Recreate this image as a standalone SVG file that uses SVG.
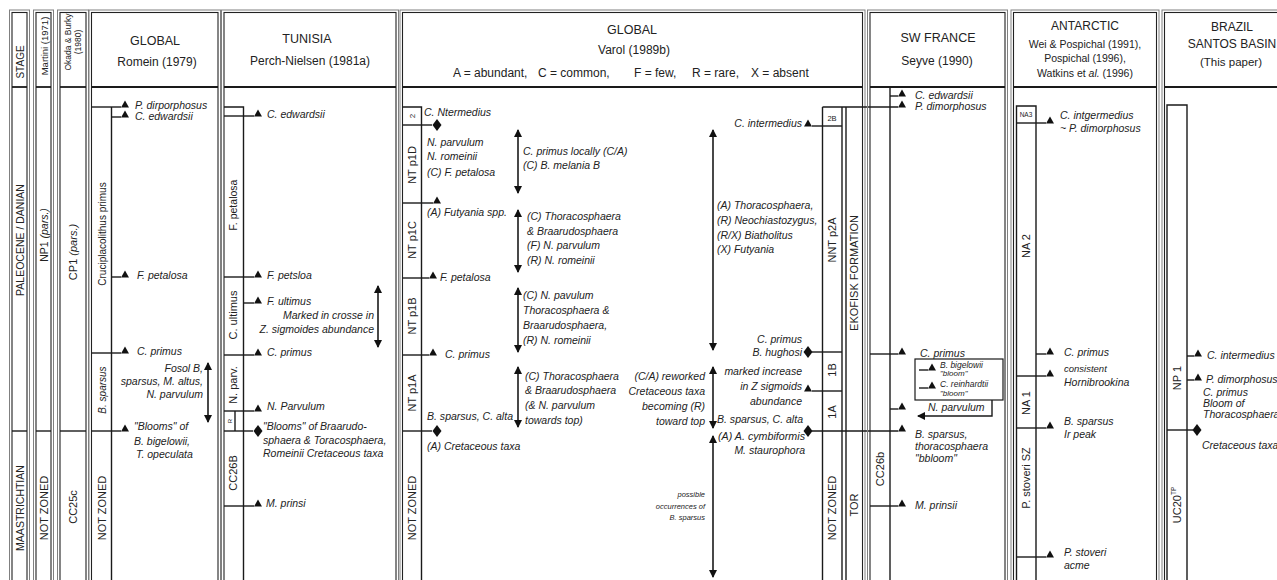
<svg xmlns="http://www.w3.org/2000/svg" width="1277" height="580" viewBox="0 0 1277 580">
<defs>
<style>
.o{fill:none;stroke:#808080;stroke-width:1}
.i{fill:none;stroke:#222;stroke-width:1.1}
.l{stroke:#1a1a1a;stroke-width:1.4;fill:none}
.hl{stroke:#1a1a1a;stroke-width:1.8}
text{font-family:"Liberation Sans",Arial,sans-serif;fill:#222}
.h{font-size:12.5px;text-anchor:middle}
.s{font-size:12px;text-anchor:middle}
.t{font-size:10.5px;font-style:italic}
.e{text-anchor:end}
.z{font-size:11px;text-anchor:middle;dominant-baseline:central}
.sm{font-size:7.5px;font-style:italic}
.ar{stroke:#1a1a1a;stroke-width:1.6;marker-start:url(#ah);marker-end:url(#ah)}
.m{fill:#111}
</style>
<marker id="ah" viewBox="0 0 8 8" refX="7" refY="4" markerWidth="8" markerHeight="8" markerUnits="userSpaceOnUse" orient="auto-start-reverse"><path d="M0,0 L8,4 L0,8 Z" fill="#111"/></marker>
<path id="tri" d="M-4,0.5 L4,0.5 L0,-6.5 Z"/>
<path id="dia" d="M0,-6 L4.5,0 L0,6 L-4.5,0 Z"/>
</defs>
<rect width="1277" height="580" fill="#fff"/>

<g id="col-stage">
<rect class="o" x="9.5" y="10" width="20" height="600"/><rect class="i" x="12" y="12.5" width="15" height="600"/>
<line class="hl" x1="12" y1="87" x2="27" y2="87"/>
<text class="z" transform="translate(20,62) rotate(-90)" style="font-size:10px">STAGE</text>
<text class="z" transform="translate(20,240) rotate(-90)" style="font-size:10.5px">PALEOCENE / DANIAN</text>
<line class="l" x1="12" y1="431" x2="27" y2="431"/>
<text class="z" transform="translate(20,508) rotate(-90)" style="font-size:10.5px">MAASTRICHTIAN</text>
</g>

<g id="col-martini">
<rect class="o" x="33.5" y="10" width="20" height="600"/><rect class="i" x="36" y="12.5" width="15" height="600"/>
<line class="hl" x1="36" y1="87" x2="51" y2="87"/>
<text class="z" transform="translate(44,46) rotate(-90)" style="font-size:9.5px">Martini (1971)</text>
<text class="z" transform="translate(44,235) rotate(-90)" style="font-size:10.5px">NP1 <tspan font-style="italic">(pars.)</tspan></text>
<line class="l" x1="36" y1="431" x2="51" y2="431"/>
<text class="z" transform="translate(44,508) rotate(-90)">NOT ZONED</text>
</g>

<g id="col-okada">
<rect class="o" x="57.5" y="10" width="31" height="600"/><rect class="i" x="60" y="12.5" width="26" height="600"/>
<line class="hl" x1="60" y1="87" x2="86" y2="87"/>
<text class="z" transform="translate(68,42) rotate(-90)" style="font-size:8.5px">Okada &amp; Burky</text>
<text class="z" transform="translate(78,42) rotate(-90)" style="font-size:8.5px">(1980)</text>
<text class="z" transform="translate(73,252) rotate(-90)">CP1 <tspan font-style="italic">(pars.)</tspan></text>
<line class="l" x1="60" y1="431" x2="86" y2="431"/>
<text class="z" transform="translate(73,507) rotate(-90)">CC25c</text>
</g>

<g id="col-romein">
<rect class="o" x="89" y="10" width="131.5" height="600"/><rect class="i" x="91.5" y="12.5" width="126.5" height="600"/>
<line class="hl" x1="91.5" y1="87" x2="218" y2="87"/>
<text class="h" x="155" y="45">GLOBAL</text>
<text class="s" x="157" y="66">Romein (1979)</text>
<line class="l" x1="111.5" y1="107" x2="111.5" y2="600"/>
<line class="l" x1="91.5" y1="107" x2="121" y2="107"/><use href="#tri" class="m" x="125" y="107"/>
<text class="t" x="135" y="109">P. dirporphosus</text>
<line class="l" x1="111.5" y1="117" x2="121" y2="117"/><use href="#tri" class="m" x="125" y="117"/>
<text class="t" x="135" y="120">C. edwardsii</text>
<text class="z" transform="translate(102,234) rotate(-90)" style="font-size:10px">Cruciplacolithus primus</text>
<line class="l" x1="111.5" y1="277" x2="121" y2="277"/><use href="#tri" class="m" x="125" y="277"/>
<text class="t" x="137" y="279">F. petalosa</text>
<line class="l" x1="91.5" y1="353" x2="121" y2="353"/><use href="#tri" class="m" x="125" y="353"/>
<text class="t" x="137" y="355">C. primus</text>
<text class="z" transform="translate(102,390) rotate(-90)" style="font-style:italic;font-size:10px">B. sparsus</text>
<text class="t e" x="203" y="372">Fosol B,</text>
<text class="t e" x="203" y="385">sparsus, M. altus,</text>
<text class="t e" x="203" y="398">N. parvulum</text>
<line class="l" x1="91.5" y1="431" x2="121" y2="431"/><use href="#tri" class="m" x="125" y="431"/>
<text class="t" x="134" y="430">"Blooms" of</text>
<text class="t" x="134" y="445">B. bigelowii,</text>
<text class="t" x="136" y="458">T. opeculata</text>
<text class="z" transform="translate(102,508) rotate(-90)">NOT ZONED</text>
</g>

<g id="col-tunisia">
<rect class="o" x="221.5" y="10" width="177" height="600"/><rect class="i" x="224" y="12.5" width="172" height="600"/>
<line class="hl" x1="224" y1="87" x2="396" y2="87"/>
<text class="h" x="307" y="43">TUNISIA</text>
<text class="s" x="310" y="65">Perch-Nielsen (1981a)</text>
<path class="l" d="M224,107 H243.5 V600"/>
<line class="l" x1="224" y1="116" x2="254" y2="116"/><use href="#tri" class="m" x="258" y="116"/>
<text class="t" x="267" y="118">C. edwardsii</text>
<text class="z" transform="translate(233,205) rotate(-90)" style="font-size:10.5px">F. petalosa</text>
<line class="l" x1="224" y1="277" x2="254" y2="277"/><use href="#tri" class="m" x="258" y="277"/>
<text class="t" x="267" y="279">F. petsloa</text>
<line class="l" x1="243.5" y1="303" x2="254" y2="303"/><use href="#tri" class="m" x="258" y="303"/>
<text class="t" x="267" y="305">F. ultimus</text>
<text class="z" transform="translate(233,315) rotate(-90)">C. ultimus</text>
<text class="t e" x="374" y="319">Marked in crosse in</text>
<text class="t e" x="374" y="333">Z. sigmoides abundance</text>
<line class="l" x1="224" y1="355" x2="254" y2="355"/><use href="#tri" class="m" x="258" y="355"/>
<text class="t" x="267" y="356">C. primus</text>
<text class="z" transform="translate(233,385) rotate(-90)">N. parv.</text>
<line class="l" x1="224" y1="411" x2="254" y2="411"/><use href="#tri" class="m" x="258" y="411"/>
<text class="t" x="267" y="410">N. Parvulum</text>
<line class="l" x1="235" y1="411" x2="235" y2="431"/>
<text class="z" transform="translate(230,421) rotate(-90)" style="font-size:6px">R</text>
<line class="l" x1="224" y1="431" x2="253" y2="431"/><use href="#dia" class="m" x="258" y="431"/>
<text class="t" x="263" y="430">"Blooms" of Braarudo-</text>
<text class="t" x="263" y="444">sphaera &amp; Toracosphaera,</text>
<text class="t" x="263" y="457">Romeinii Cretaceous taxa</text>
<text class="z" transform="translate(233,473) rotate(-90)">CC26B</text>
<line class="l" x1="224" y1="506" x2="254" y2="506"/><use href="#tri" class="m" x="258" y="506"/>
<text class="t" x="266" y="507">M. prinsi</text>
</g>

<g id="col-varol">
<rect class="o" x="400" y="10" width="465" height="600"/><rect class="i" x="402.5" y="12.5" width="460" height="600"/>
<line class="hl" x1="402.5" y1="87" x2="862.5" y2="87"/>
<text class="h" x="632" y="34">GLOBAL</text>
<text class="s" x="634" y="54">Varol (1989b)</text>
<text style="font-size:12px" x="453" y="77">A = abundant,</text>
<text style="font-size:12px" x="538" y="77">C = common,</text>
<text style="font-size:12px" x="634" y="77">F = few,</text>
<text style="font-size:12px" x="692" y="77">R = rare,</text>
<text style="font-size:12px" x="751" y="77">X = absent</text>
<path class="l" d="M402.5,107 H421.5 V600"/>
<text class="z" transform="translate(412,116) rotate(-90)" style="font-size:8px">2</text>
<text class="t" x="424" y="116">C. Ntermedius</text>
<line class="l" x1="402.5" y1="125" x2="432" y2="125"/><use href="#dia" class="m" x="437" y="125"/>
<text class="t" x="427" y="146">N. parvulum</text>
<text class="t" x="427" y="160">N. romeinii</text>
<text class="t" x="427" y="176">(C) F. petalosa</text>
<text class="z" transform="translate(412,165) rotate(-90)">NT p1D</text>
<line class="l" x1="402.5" y1="203" x2="433" y2="203"/><use href="#tri" class="m" x="437" y="203"/>
<text class="t" x="427" y="216">(A) Futyania spp.</text>
<text class="z" transform="translate(412,240) rotate(-90)">NT p1C</text>
<text class="t" x="523" y="155">C. primus locally (C/A)</text>
<text class="t" x="523" y="169">(C) B. melania B</text>
<text class="t" x="527" y="220">(C) Thoracosphaera</text>
<text class="t" x="527" y="235">&amp; Braarudosphaera</text>
<text class="t" x="527" y="249">(F) N. parvulum</text>
<text class="t" x="527" y="264">(R) N. romeinii</text>
<line class="l" x1="402.5" y1="278" x2="429" y2="278"/><use href="#tri" class="m" x="433" y="278"/>
<text class="t" x="440" y="281">F. petalosa</text>
<text class="z" transform="translate(412,316) rotate(-90)">NT p1B</text>
<text class="t" x="523" y="299">(C) N. pavulum</text>
<text class="t" x="523" y="314">Thoracosphaera &amp;</text>
<text class="t" x="523" y="329">Braarudosphaera,</text>
<text class="t" x="523" y="344">(R) N. romeinii</text>
<line class="l" x1="402.5" y1="355" x2="429" y2="355"/><use href="#tri" class="m" x="433" y="355"/>
<text class="t" x="445" y="358">C. primus</text>
<text class="z" transform="translate(412,393) rotate(-90)">NT p1A</text>
<text class="t" x="525" y="380">(C) Thoracosphaera</text>
<text class="t" x="525" y="394">&amp; Braarudosphaera</text>
<text class="t" x="525" y="409">(&amp; N. parvulum</text>
<text class="t" x="525" y="424">towards top)</text>
<text class="t" x="427" y="420" textLength="86" lengthAdjust="spacingAndGlyphs">B. sparsus, C. alta</text>
<line class="l" x1="402.5" y1="431" x2="432" y2="431"/><use href="#dia" class="m" x="437" y="431"/>
<text class="t" x="427" y="450">(A) Cretaceous taxa</text>
<text class="z" transform="translate(412,508) rotate(-90)">NOT ZONED</text>

<text class="t e" x="705" y="380">(C/A) reworked</text>
<text class="t e" x="705" y="395">Cretaceous taxa</text>
<text class="t e" x="705" y="410">becoming (R)</text>
<text class="t e" x="705" y="425">toward top</text>
<text class="sm e" x="705" y="497">possible</text>
<text class="sm e" x="705" y="509">occurrences of</text>
<text class="sm e" x="705" y="520">B. sparsus</text>
<text class="t" x="717" y="209">(A) Thoracosphaera,</text>
<text class="t" x="717" y="224">(R) Neochiastozygus,</text>
<text class="t" x="717" y="239">(R/X) Biatholitus</text>
<text class="t" x="717" y="253">(X) Futyania</text>

<text class="t e" x="802" y="127">C. intermedius</text>
<use href="#tri" class="m" x="808" y="126"/>
<line class="l" x1="812" y1="126" x2="842" y2="126"/>
<line class="l" x1="822.5" y1="107" x2="822.5" y2="600"/>
<line class="l" x1="842" y1="107" x2="842" y2="600"/>
<line class="l" x1="846" y1="107" x2="846" y2="600"/>
<line class="l" x1="822.5" y1="107" x2="898" y2="107"/>
<text x="832" y="121" style="font-size:7.5px" text-anchor="middle">2B</text>
<text class="z" transform="translate(832,240) rotate(-90)">NNT p2A</text>
<text class="z" transform="translate(854,273) rotate(-90)">EKOFISK FORMATION</text>
<text class="t e" x="802" y="343">C. primus</text>
<text class="t e" x="802" y="356">B. hughosi</text>
<use href="#dia" class="m" x="808" y="352"/>
<line class="l" x1="812" y1="352" x2="842" y2="352"/>
<text class="z" transform="translate(832,370) rotate(-90)">1B</text>
<text class="t e" x="802" y="375">marked increase</text>
<text class="t e" x="802" y="390">in Z sigmoids</text>
<text class="t e" x="802" y="405">abundance</text>
<use href="#tri" class="m" x="808" y="391"/>
<line class="l" x1="812" y1="391" x2="842" y2="391"/>
<text class="z" transform="translate(832,412) rotate(-90)">1A</text>
<text class="t e" x="803" y="423" textLength="86" lengthAdjust="spacingAndGlyphs">B. sparsus, C. alta</text>
<text class="t e" x="805" y="440" textLength="87" lengthAdjust="spacingAndGlyphs">(A) A. cymbiformis</text>
<text class="t e" x="805" y="454">M. staurophora</text>
<use href="#dia" class="m" x="808" y="431"/>
<line class="l" x1="812" y1="431" x2="898" y2="431"/>
<text class="z" transform="translate(832,508) rotate(-90)">NOT ZONED</text>
<text class="z" transform="translate(854,505) rotate(-90)">TOR</text>
</g>

<g id="col-swfrance">
<rect class="o" x="867.5" y="10" width="140" height="600"/><rect class="i" x="870" y="12.5" width="135" height="600"/>
<line class="hl" x1="870" y1="87" x2="1005" y2="87"/>
<text class="h" x="938" y="42">SW FRANCE</text>
<text class="s" x="937" y="65">Seyve (1990)</text>
<line class="l" x1="890" y1="87" x2="890" y2="600"/>
<line class="l" x1="890" y1="96" x2="898" y2="96"/><use href="#tri" class="m" x="902" y="96"/>
<text class="t" x="915" y="99">C. edwardsii</text>
<use href="#tri" class="m" x="902" y="107"/>
<text class="t" x="915" y="110">P. dimorphosus</text>
<line class="l" x1="870" y1="354" x2="898" y2="354"/><use href="#tri" class="m" x="902" y="354"/>
<text class="t" x="920" y="357">C. primus</text>
<rect class="l" x="915" y="359" width="88" height="41" style="stroke-width:1.2"/>
<line class="l" x1="919" y1="370" x2="928" y2="370"/><use href="#tri" class="m" x="932" y="370"/>
<text class="t" x="940" y="368" style="font-size:8.5px">B. bigelowii</text>
<text class="t" x="940" y="376" style="font-size:8px">"bloom"</text>
<line class="l" x1="919" y1="388" x2="928" y2="388"/><use href="#tri" class="m" x="932" y="388"/>
<text class="t" x="940" y="387" style="font-size:8.5px">C. reinhardtii</text>
<text class="t" x="940" y="396" style="font-size:8px">"bloom"</text>
<path class="l" d="M992,400 V416 H918" style="marker-end:url(#ah)"/>
<text class="t" x="928" y="411">N. parvulum</text>
<line class="l" x1="890" y1="409" x2="898" y2="409"/><use href="#tri" class="m" x="902" y="409"/>
<use href="#tri" class="m" x="902" y="431"/>
<text class="t" x="915" y="438">B. sparsus,</text>
<text class="t" x="915" y="450">thoracosphaera</text>
<text class="t" x="915" y="462">"bbloom"</text>
<text class="z" transform="translate(880,469) rotate(-90)">CC26b</text>
<line class="l" x1="870" y1="506" x2="898" y2="506"/><use href="#tri" class="m" x="902" y="506"/>
<text class="t" x="915" y="509">M. prinsii</text>
</g>

<g id="col-antarctic">
<rect class="o" x="1011" y="10" width="148" height="600"/><rect class="i" x="1013.5" y="12.5" width="143" height="600"/>
<line class="hl" x1="1013.5" y1="87" x2="1156.5" y2="87"/>
<text class="h" x="1085" y="30" style="font-size:12px">ANTARCTIC</text>
<text class="s" x="1085" y="48" style="font-size:10.5px">Wei &amp; Pospichal (1991),</text>
<text class="s" x="1085" y="62" style="font-size:10.5px">Pospichal (1996),</text>
<text class="s" x="1085" y="77" style="font-size:10.5px">Watkins et <tspan font-style="italic">al.</tspan> (1996)</text>
<path class="l" d="M1016.5,600 V106 H1036 V600"/>
<text x="1026" y="117" style="font-size:6.5px" text-anchor="middle">NA3</text>
<line class="l" x1="1016.5" y1="123" x2="1046" y2="123"/><use href="#tri" class="m" x="1050" y="123"/>
<text class="t" x="1060" y="119">C. intgermedius</text>
<text class="t" x="1060" y="132">~ P. dimorphosus</text>
<text class="z" transform="translate(1026,246) rotate(-90)">NA 2</text>
<line class="l" x1="1036" y1="354" x2="1046" y2="354"/><use href="#tri" class="m" x="1050" y="354"/>
<text class="t" x="1064" y="356">C. primus</text>
<line class="l" x1="1016.5" y1="376" x2="1046" y2="376"/><use href="#tri" class="m" x="1050" y="376"/>
<text class="t" x="1064" y="372" style="font-size:9.5px">consistent</text>
<text class="t" x="1064" y="386">Hornibrookina</text>
<text class="z" transform="translate(1026,403) rotate(-90)">NA 1</text>
<line class="l" x1="1016.5" y1="428" x2="1046" y2="428"/><use href="#tri" class="m" x="1050" y="428"/>
<text class="t" x="1064" y="425">B. sparsus</text>
<text class="t" x="1064" y="438">Ir peak</text>
<text class="z" transform="translate(1026,478) rotate(-90)">P. stoveri SZ</text>
<line class="l" x1="1016.5" y1="557" x2="1046" y2="557"/><use href="#tri" class="m" x="1050" y="557"/>
<text class="t" x="1064" y="556">P. stoveri</text>
<text class="t" x="1064" y="569">acme</text>
</g>

<g id="col-brazil">
<rect class="o" x="1162" y="10" width="130" height="600"/><rect class="i" x="1164.5" y="12.5" width="125" height="600"/>
<line class="hl" x1="1164.5" y1="87" x2="1277" y2="87"/>
<text class="h" x="1232" y="31" style="font-size:12px">BRAZIL</text>
<text class="h" x="1232" y="48" style="font-size:12px">SANTOS BASIN</text>
<text class="s" x="1231" y="66" style="font-size:11.5px">(This paper)</text>
<path class="l" d="M1167,600 V105 H1187 V600"/>
<line class="l" x1="1187" y1="356" x2="1194" y2="356"/><use href="#tri" class="m" x="1198" y="356"/>
<text class="t" x="1207" y="359">C. intermedius</text>
<text class="z" transform="translate(1177,378) rotate(-90)">NP 1</text>
<line class="l" x1="1187" y1="380" x2="1194" y2="380"/><use href="#tri" class="m" x="1198" y="380"/>
<text class="t" x="1206" y="383">P. dimorphosus</text>
<text class="t" x="1203" y="396">C. primus</text>
<text class="t" x="1203" y="407">Bloom of</text>
<text class="t" x="1203" y="418">Thoracosphaera</text>
<line class="l" x1="1167" y1="430" x2="1193" y2="430"/><use href="#dia" class="m" x="1197" y="430"/>
<text class="t" x="1202" y="449">Cretaceous taxa</text>
<text class="z" transform="translate(1177,505) rotate(-90)">UC20<tspan dy="-4" style="font-size:6.5px">TP</tspan></text>
</g>

<g id="connectors">
<line class="ar" x1="208" y1="363" x2="208" y2="422"/>
<line class="ar" x1="378" y1="286" x2="378" y2="347"/>
<line class="ar" x1="518" y1="130" x2="518" y2="193"/>
<line class="ar" x1="518" y1="210" x2="518" y2="272"/>
<line class="ar" x1="518" y1="288" x2="518" y2="352"/>
<line class="ar" x1="518" y1="367" x2="518" y2="427"/>
<line class="ar" x1="713" y1="130" x2="713" y2="350"/>
<line class="ar" x1="713" y1="367" x2="713" y2="428"/>
<line class="ar" x1="713" y1="436" x2="713" y2="577"/>
</g>
</svg>
